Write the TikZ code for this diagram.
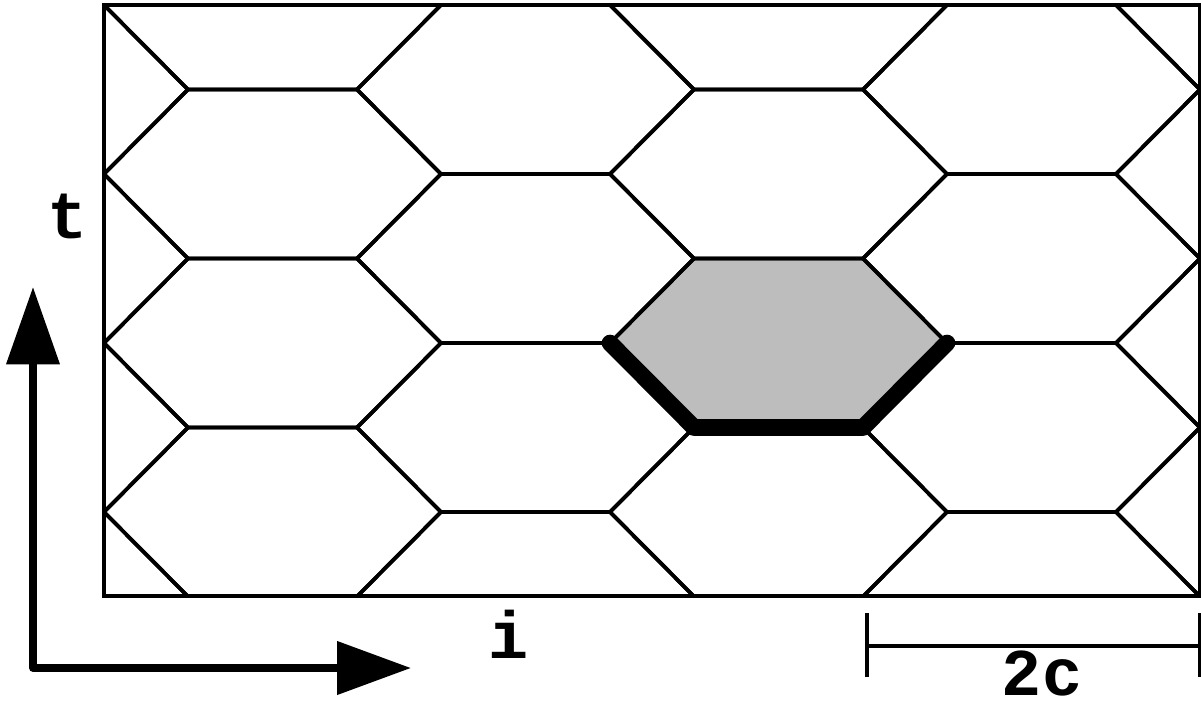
\documentclass[tikz,border=0pt]{standalone}
\usepackage{fontspec}
\setmonofont{Liberation Mono}
\usetikzlibrary{arrows.meta,calc}
\begin{document}
\begin{tikzpicture}[x=0.02cm,y=-0.02cm,
  gridline/.style={line width=2.1pt, line join=miter},
  cellfill/.style={fill={rgb,255:red,189;green,189;blue,189}},
  boundary/.style={line width=9.5pt, line cap=round, line join=round},
  axis/.style={line width=4.4pt, line join=round,
    {Triangle[length=44pt,width=29.5pt]}-{Triangle[length=42pt,width=29.5pt]}},
  scalebar/.style={line width=2.2pt},
  lbl/.style={font=\ttfamily\bfseries\fontsize{38}{38}\selectfont, inner sep=0pt}
]
\useasboundingbox (0,0) rectangle (1201,707);

% highlighted cell
\coordinate (h1) at (610,343);
\coordinate (h2) at (694,258.5);
\coordinate (h3) at (863,258.5);
\coordinate (h4) at (947,343);
\coordinate (h5) at (863,427.5);
\coordinate (h6) at (694,427.5);
\fill[cellfill] (h1) -- (h2) -- (h3) -- (h4) -- (h5) -- (h6) -- cycle;

% hexagonal tiling clipped to the frame
\begin{scope}
  \clip (104,5) rectangle (1200,596);
  \foreach \cx in {-233.5,272.5,778.5,1284.5}
    \foreach \cy in {5,174,343,512,681}
      \draw[gridline] (\cx-168.5,\cy) -- (\cx-84.5,\cy-84.5) -- (\cx+84.5,\cy-84.5)
        -- (\cx+168.5,\cy) -- (\cx+84.5,\cy+84.5) -- (\cx-84.5,\cy+84.5) -- cycle;
  \foreach \cx in {19.5,525.5,1031.5}
    \foreach \cy in {-79.5,89.5,258.5,427.5,596.5}
      \draw[gridline] (\cx-168.5,\cy) -- (\cx-84.5,\cy-84.5) -- (\cx+84.5,\cy-84.5)
        -- (\cx+168.5,\cy) -- (\cx+84.5,\cy+84.5) -- (\cx-84.5,\cy+84.5) -- cycle;
\end{scope}

% frame
\draw[gridline] (104,5) rectangle (1200,596);

% lower boundary of the highlighted cell
\draw[boundary] (h1) -- (h6) -- (h5) -- (h4);

% axes
\coordinate (o) at (33,668);
\coordinate (tend) at (33,287);
\coordinate (iend) at (411,668);
\draw[axis] (tend) -- (o) -- (iend);
\node[lbl] (t) at (68,216) {t};
\node[lbl] (i) at (509,634) {i};

% scale bar
\coordinate (sl) at (867,646);
\coordinate (sr) at (1199.5,646);
\draw[scalebar] (sl) -- (sr);
\draw[scalebar] ($(sl)+(0,-33)$) -- ($(sl)+(0,31)$);
\draw[scalebar] ($(sr)+(0,-33)$) -- ($(sr)+(0,31)$);
\node[lbl] (c) at (1042,673) {2c};
\end{tikzpicture}
\end{document}
